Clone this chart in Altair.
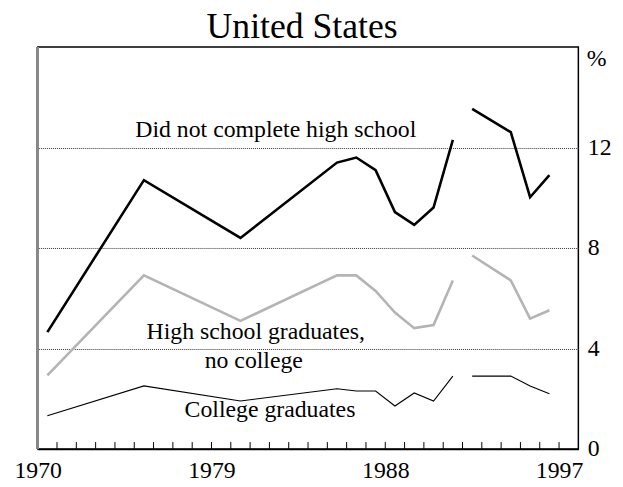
import altair as alt
import pandas as pd

# ---- data (years; points plotted at mid-year) ----
years_a = [1970, 1975, 1980, 1985, 1986, 1987, 1988, 1989, 1990, 1991]
years_b = [1992, 1994, 1995, 1996]

dropout_a = [4.65, 10.7, 8.4, 11.4, 11.6, 11.1, 9.43, 8.92, 9.61, 12.3]
dropout_b = [13.54, 12.61, 10.02, 10.9]

hsgrad_a = [2.93, 6.91, 5.10, 6.91, 6.91, 6.29, 5.43, 4.81, 4.93, 6.71]
hsgrad_b = [7.70, 6.71, 5.19, 5.52]

college_a = [1.32, 2.51, 1.91, 2.40, 2.31, 2.31, 1.71, 2.23, 1.91, 2.90]
college_b = [2.90, 2.90, 2.51, 2.20]

tick_years = list(range(1970, 1998))
label_years = [1970, 1979, 1988, 1997]
y_labels = [0, 4, 8, 12]

title_text = "United States"
label_texts = ["Did not complete high school", "High school graduates,",
               "no college", "College graduates"]

# ---- layout constants ----
FONT = "Liberation Serif"
W, H = 546, 406
label_x = [1982.33, 1981.29, 1981.19, 1982.03]
label_y = [12.40, 4.38, 3.22, 1.28]

rows = []
for name, ya, va, yb, vb in [
    ("dropout", years_a, dropout_a, years_b, dropout_b),
    ("hsgrad", years_a, hsgrad_a, years_b, hsgrad_b),
    ("college", years_a, college_a, years_b, college_b),
]:
    for y, v in zip(ya, va):
        rows.append({"series": name, "seg": "a", "year": y, "value": v})
    for y, v in zip(yb, vb):
        rows.append({"series": name, "seg": "b", "year": y, "value": v})
df = pd.DataFrame(rows)

xscale = alt.Scale(domain=[1970, 1998], nice=False, zero=False)
yscale = alt.Scale(domain=[0, 16], nice=False, zero=True)

x_axis = alt.Axis(
    values=label_years, format="d", title=None, ticks=False, grid=False,
    domain=True, domainColor="black", domainWidth=1.5,
    labelFont=FONT, labelFontSize=24, labelColor="black",
    labelPadding=10, labelFlush=False, labelOverlap=False,
)
y_axis = alt.Axis(
    orient="right", values=y_labels, title="%", titleAngle=0,
    titleAlign="left", titleBaseline="middle", titleX=8, titleY=12,
    titleFont=FONT, titleFontSize=24, titleFontWeight="normal",
    titleColor="black",
    ticks=False, domain=False, grid=True,
    gridColor="#333333", gridDash=[1, 1], gridWidth=1,
    labelFont=FONT, labelFontSize=24, labelColor="black",
    labelPadding=9, labelFlush=False, labelOverlap=False,
)

base = alt.Chart(df).transform_calculate(xpos="datum.year + 0.5")


def series_line(name, color, width):
    return base.transform_filter(alt.datum.series == name).mark_line(
        color=color, strokeWidth=width, strokeJoin="miter"
    ).encode(
        x=alt.X("xpos:Q", scale=xscale, axis=x_axis),
        y=alt.Y("value:Q", scale=yscale, axis=y_axis),
        detail="seg:N",
    )


ticks_df = pd.DataFrame({"year": tick_years})
ticks = alt.Chart(ticks_df).mark_rule(color="black", strokeWidth=1).encode(
    x=alt.X("year:Q", scale=xscale, axis=x_axis),
    y=alt.value(H),
    y2=alt.value(H - 7),
)

left_edge = alt.Chart(ticks_df).mark_rule(color="#888888", strokeWidth=2.5).encode(
    x=alt.value(0), y=alt.value(0), y2=alt.value(H)
)

lab_df = pd.DataFrame({"text": label_texts, "x": label_x, "y": label_y})
labels = alt.Chart(lab_df).mark_text(
    font=FONT, fontSize=24, color="black", align="center", baseline="alphabetic"
).encode(
    x=alt.X("x:Q", scale=xscale, axis=x_axis),
    y=alt.Y("y:Q", scale=yscale, axis=y_axis),
    text="text:N",
)

title_df = pd.DataFrame({"text": [title_text]})
title = alt.Chart(title_df).mark_text(
    font=FONT, fontSize=36, color="black", align="center", baseline="alphabetic"
).encode(
    x=alt.value(W / 2 - 6),
    y=alt.value(-9),
    text="text:N",
)

chart = alt.layer(
    series_line("hsgrad", "#b4b4b4", 2.6),
    series_line("college", "black", 1.1),
    series_line("dropout", "black", 2.6),
    ticks,
    labels,
    title,
    left_edge,
).properties(
    width=W,
    height=H,
    autosize=alt.AutoSizeParams(type="none"),
    padding={"left": 30, "top": 37, "right": 37, "bottom": 34},
).configure(
    background="white"
).configure_view(
    stroke="black", strokeWidth=1.5
)

chart.save("out.html", embed_options={"renderer": "svg", "actions": False})
